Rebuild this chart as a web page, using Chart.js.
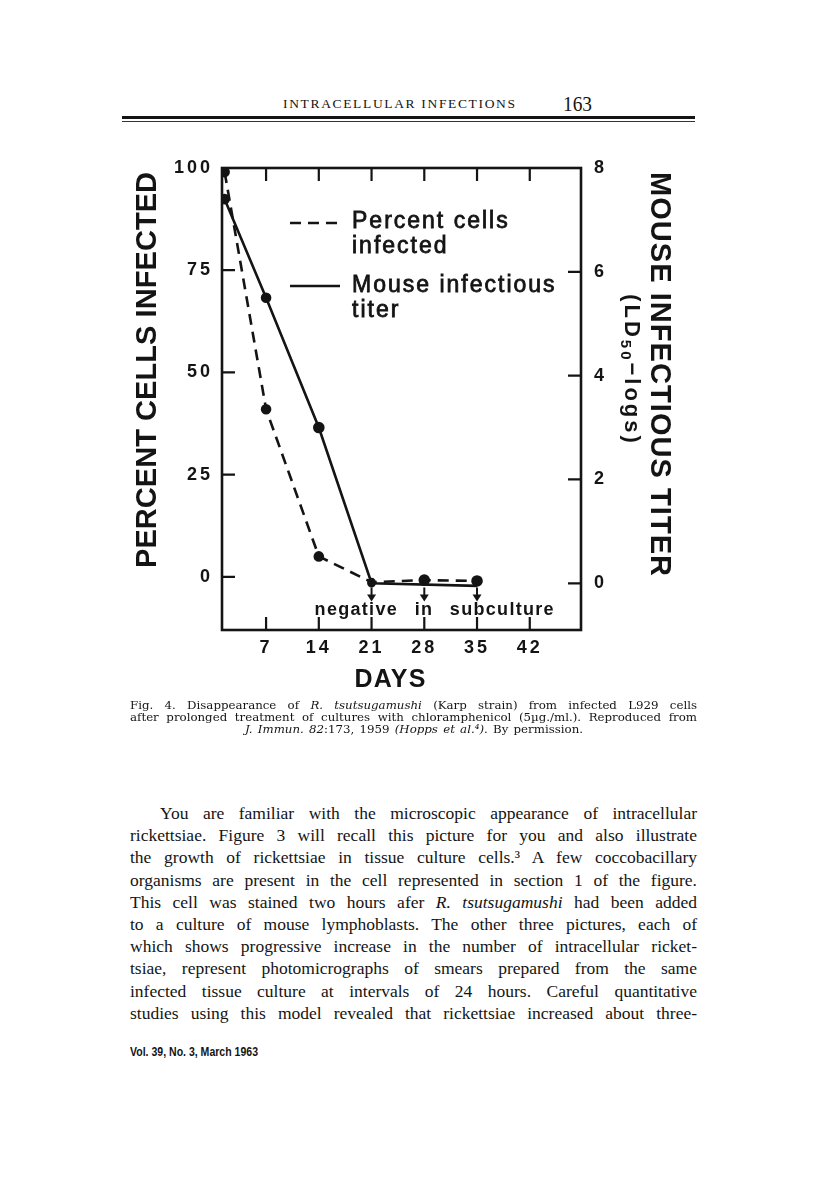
<!DOCTYPE html>
<html>
<head>
<meta charset="utf-8">
<script src="https://cdn.jsdelivr.net/npm/chart.js@4.4.1/dist/chart.umd.min.js"></script>
<style>
html,body{margin:0;padding:0;background:#fff;}
body{width:816px;height:1188px;position:relative;overflow:hidden;color:#141414;}
.a{position:absolute;white-space:nowrap;}
#hdr{left:283px;top:96px;font:13.5px "Liberation Serif",serif;line-height:16px;}
#pg{left:563px;top:93px;font:21px "Liberation Serif",serif;line-height:22px;}
#rule1{position:absolute;left:122px;top:116px;width:573px;height:3px;background:#141414;}
#rule2{position:absolute;left:122px;top:121px;width:573px;height:1px;background:#333;}
#chartBox{position:absolute;left:100px;top:140px;width:620px;height:560px;}
.cap{font:11.8px "DejaVu Serif",serif;line-height:12px;}
.body{font:17.5px "Liberation Serif",serif;line-height:22.2px;}
#foot{left:130px;top:1045px;font:bold 12.5px "Liberation Sans Narrow","Liberation Sans",sans-serif;line-height:15px;}
</style>
</head>
<body>
<div id="hdr" class="a" data-w="232" data-m="letter">INTRACELLULAR INFECTIONS</div>
<div id="pg" class="a" data-w="29" data-m="letter">163</div>
<div id="rule1"></div><div id="rule2"></div>

<div id="chartBox"><canvas id="c" width="620" height="560"></canvas></div>

<div class="a cap" style="left:130px;top:698.5px" data-w="567" data-m="justify">Fig. 4. Disappearance of <i>R. tsutsugamushi</i> (Karp strain) from infected L929 cells</div>
<div class="a cap" style="left:130px;top:710.5px" data-w="567" data-m="justify">after prolonged treatment of cultures with chloramphenicol (5µg./ml.). Reproduced from</div>
<div class="a cap" style="left:245px;top:722.5px" data-w="338" data-m="justify"><i>J. Immun. 82</i>:173, 1959 <i>(Hopps et al.⁴)</i>. By permission.</div>

<div class="a body" style="left:160px;top:802px" data-w="537" data-m="justify">You are familiar with the microscopic appearance of intracellular</div>
<div class="a body" style="left:130px;top:824.2px" data-w="567" data-m="justify">rickettsiae. Figure 3 will recall this picture for you and also illustrate</div>
<div class="a body" style="left:130px;top:846.4px" data-w="567" data-m="justify">the growth of rickettsiae in tissue culture cells.³ A few coccobacillary</div>
<div class="a body" style="left:130px;top:868.6px" data-w="567" data-m="justify">organisms are present in the cell represented in section 1 of the figure.</div>
<div class="a body" style="left:130px;top:890.8px" data-w="567" data-m="justify">This cell was stained two hours afer <i>R. tsutsugamushi</i> had been added</div>
<div class="a body" style="left:130px;top:913px" data-w="567" data-m="justify">to a culture of mouse lymphoblasts. The other three pictures, each of</div>
<div class="a body" style="left:130px;top:935.2px" data-w="567" data-m="justify">which shows progressive increase in the number of intracellular ricket-</div>
<div class="a body" style="left:130px;top:957.4px" data-w="567" data-m="justify">tsiae, represent photomicrographs of smears prepared from the same</div>
<div class="a body" style="left:130px;top:979.6px" data-w="567" data-m="justify">infected tissue culture at intervals of 24 hours. Careful quantitative</div>
<div class="a body" style="left:130px;top:1001.8px" data-w="567" data-m="justify">studies using this model revealed that rickettsiae increased about three-</div>

<div id="foot" class="a" data-w="128" data-m="scale">Vol. 39, No. 3, March 1963</div>

<script>
// ---- data ----
const percentDays     = [1.5, 7, 14, 21, 28, 35];
const percentInfected = [99, 41, 5, -1.3, -0.8, -1.0];
const titerDays       = [1.5, 7, 14, 21, 35];
const mouseTiter      = [7.4, 5.5, 3.0, 0, -0.05];
const dayTicks        = [7, 14, 21, 28, 35, 42];
const percentTicks    = [0, 25, 50, 75, 100];
const titerTicks      = [0, 2, 4, 6, 8];
const negativeDays    = [21, 28, 35];
const legendLabels    = [["Percent cells", "infected"], ["Mouse infectious", "titer"]];
const leftTitle  = "PERCENT CELLS INFECTED";
const rightTitle = "MOUSE INFECTIOUS TITER";
const xTitle     = "DAYS";
const noteWords  = ["negative", "in", "subculture"];

const INK = '#141414';
const SANS = "'Liberation Sans', Arial, sans-serif";

// ---- page text fitting ----
function fitAll(){
  document.querySelectorAll('[data-w]').forEach(el=>{
    el.style.wordSpacing=''; el.style.letterSpacing=''; el.style.transform='';
    const target=+el.dataset.w, mode=el.dataset.m;
    const w=el.getBoundingClientRect().width;
    const txt=el.textContent;
    if(mode==='justify'){
      const sp=(txt.match(/ /g)||[]).length;
      if(w<=target && sp){ el.style.wordSpacing=((target-w)/sp)+'px'; return; }
    } else if(mode==='letter'){
      const n=[...txt].length;
      if(w<=target && n>1){ el.style.letterSpacing=((target-w)/(n-1))+'px'; return; }
    }
    el.style.transformOrigin='0 50%';
    el.style.transform='scaleX('+(target/w)+')';
  });
}
fitAll();
if(document.fonts && document.fonts.ready) document.fonts.ready.then(fitAll);

// ---- canvas helpers ----
function spacedWidth(ctx, text, ls){ ctx.letterSpacing='0px'; return ctx.measureText(text).width + ls*([...text].length-1); }
function drawFit(ctx, text, cx, cy, angle, font, target){
  ctx.save();
  ctx.font=font; ctx.letterSpacing='0px';
  const w0=ctx.measureText(text).width, n=[...text].length;
  const ls=(target-w0)/(n-1);
  ctx.translate(cx,cy); ctx.rotate(angle);
  ctx.letterSpacing=ls+'px';
  ctx.textAlign='left'; ctx.textBaseline='middle';
  ctx.fillText(text,-target/2,0);
  ctx.restore();
}

const decor = {
  id:'decor',
  beforeDraw(chart){ chart.ctx.letterSpacing='3px'; },
  afterDraw(chart){
    const ctx=chart.ctx, a=chart.chartArea;
    const xs=chart.scales.x, yl=chart.scales.y, yr=chart.scales.y2;
    ctx.letterSpacing='0px';
    ctx.save();
    ctx.strokeStyle=INK; ctx.fillStyle=INK;
    // frame
    ctx.lineWidth=2.6;
    ctx.strokeRect(a.left,a.top,a.right-a.left,a.bottom-a.top);
    // inward tick marks
    const TL=13;
    ctx.beginPath();
    dayTicks.forEach(v=>{const x=xs.getPixelForValue(v);
      ctx.moveTo(x,a.top); ctx.lineTo(x,a.top+TL);
      ctx.moveTo(x,a.bottom); ctx.lineTo(x,a.bottom-TL);});
    percentTicks.forEach(v=>{const y=yl.getPixelForValue(v); ctx.moveTo(a.left,y); ctx.lineTo(a.left+TL,y);});
    titerTicks.forEach(v=>{const y=yr.getPixelForValue(v); ctx.moveTo(a.right,y); ctx.lineTo(a.right-TL,y);});
    ctx.lineWidth=2.2; ctx.stroke();
    // arrows "negative in subculture"
    negativeDays.forEach(d=>{
      const x=xs.getPixelForValue(d);
      const y0=yl.getPixelForValue(-2.6), tip=yl.getPixelForValue(-6);
      ctx.beginPath(); ctx.moveTo(x,y0); ctx.lineTo(x,tip-5); ctx.lineWidth=2; ctx.stroke();
      ctx.beginPath(); ctx.moveTo(x-4.5,tip-7); ctx.lineTo(x+4.5,tip-7); ctx.lineTo(x,tip); ctx.closePath(); ctx.fill();
    });
    // note words, tight letters with wide word gaps
    {
      ctx.font="bold 18px "+SANS; ctx.textBaseline='middle'; ctx.textAlign='left';
      const ls=1.3, total=239;
      const ws=noteWords.map(w=>spacedWidth(ctx,w,ls));
      const gap=(total-ws.reduce((s,v)=>s+v,0))/(noteWords.length-1);
      let x=xs.getPixelForValue(29.3)-total/2;
      const y=yl.getPixelForValue(-8.2);
      ctx.letterSpacing=ls+'px';
      noteWords.forEach((w,i)=>{ctx.fillText(w,x,y); x+=ws[i]+gap;});
      ctx.letterSpacing='0px';
    }
    // legend
    const lx0=a.left+68, lx1=a.left+118, tx=a.left+130;
    ctx.lineWidth=2.6;
    ctx.beginPath(); ctx.setLineDash([11,7]); ctx.moveTo(lx0,a.top+55); ctx.lineTo(lx1,a.top+55); ctx.stroke();
    ctx.setLineDash([]);
    ctx.beginPath(); ctx.moveTo(lx0,a.top+118); ctx.lineTo(lx1,a.top+118); ctx.stroke();
    ctx.font="23px "+SANS; ctx.textAlign='left'; ctx.textBaseline='middle';
    ctx.letterSpacing='2px'; ctx.lineWidth=0.8;
    const ly=[[a.top+54,a.top+79],[a.top+118,a.top+143]];
    legendLabels.forEach((lines,i)=>lines.forEach((t,j)=>{ctx.fillText(t,tx,ly[i][j]); ctx.strokeText(t,tx,ly[i][j]);}));
    ctx.letterSpacing='0px';
    // axis titles
    drawFit(ctx, leftTitle, 48, (a.top+a.bottom)/2-29, -Math.PI/2, "bold 29px "+SANS, 396);
    drawFit(ctx, rightTitle, a.right+78, (a.top+a.bottom)/2-25, Math.PI/2, "bold 29px "+SANS, 404);
    drawFit(ctx, xTitle, 290, a.bottom+50, 0, "bold 25px "+SANS, 71);
    // (LD50-logs)
    ctx.save();
    ctx.translate(a.right+50, (a.top+a.bottom)/2-29); ctx.rotate(Math.PI/2);
    ctx.textBaseline='middle'; ctx.textAlign='left';
    const parts=[["(LD","bold 22px "+SANS,0],["50","bold 15px "+SANS,6],["\u2212logs)","bold 22px "+SANS,0]];
    const ls=3;
    let tot=0; parts.forEach(p=>{ctx.font=p[1]; p.w=spacedWidth(ctx,p[0],ls)+ls; tot+=p.w;});
    let x=-tot/2;
    parts.forEach(p=>{ctx.font=p[1]; ctx.letterSpacing=ls+'px'; ctx.fillText(p[0],x,p[2]); x+=p.w;});
    ctx.restore();
    ctx.restore();
  }
};

const tickFont={family:SANS,size:18,weight:'bold'};
new Chart(document.getElementById('c'),{
  type:'line',
  data:{datasets:[
    {label:'Percent cells infected', yAxisID:'y',
     data:percentDays.map((d,i)=>({x:d,y:percentInfected[i]})),
     borderColor:INK, borderWidth:2.6, borderDash:[11,7],
     pointRadius:[4,4,4,3,4.5,4.5], pointBackgroundColor:INK, pointBorderColor:INK, tension:0},
    {label:'Mouse infectious titer', yAxisID:'y2',
     data:titerDays.map((d,i)=>({x:d,y:mouseTiter[i]})),
     borderColor:INK, borderWidth:2.6,
     pointRadius:[4,4,4.5,3,0], pointBackgroundColor:INK, pointBorderColor:INK, tension:0}
  ]},
  options:{
    responsive:false, animation:false, devicePixelRatio:1,
    layout:{padding:{top:28,left:0,right:0,bottom:0}, autoPadding:false},
    plugins:{legend:{display:false}, tooltip:{enabled:false}},
    scales:{
      x:{type:'linear', min:1.15, max:48.8,
         afterBuildTicks:s=>{s.ticks=dayTicks.map(v=>({value:v}));},
         afterFit:s=>{s.height=70;},
         ticks:{font:tickFont, color:INK, padding:7, maxRotation:0, autoSkip:false},
         grid:{display:false, drawTicks:false}, border:{display:false}},
      y:{type:'linear', position:'left', min:-13, max:100,
         afterBuildTicks:s=>{s.ticks=percentTicks.map(v=>({value:v}));},
         afterFit:s=>{s.width=122;},
         ticks:{font:tickFont, color:INK, padding:9, autoSkip:false},
         grid:{display:false, drawTicks:false}, border:{display:false}},
      y2:{type:'linear', position:'right', min:-0.9, max:8,
         afterBuildTicks:s=>{s.ticks=titerTicks.map(v=>({value:v}));},
         afterFit:s=>{s.width=139;},
         ticks:{font:tickFont, color:INK, padding:13, autoSkip:false},
         grid:{display:false, drawTicks:false}, border:{display:false}}
    }
  },
  plugins:[decor]
});
</script>
</body>
</html>
